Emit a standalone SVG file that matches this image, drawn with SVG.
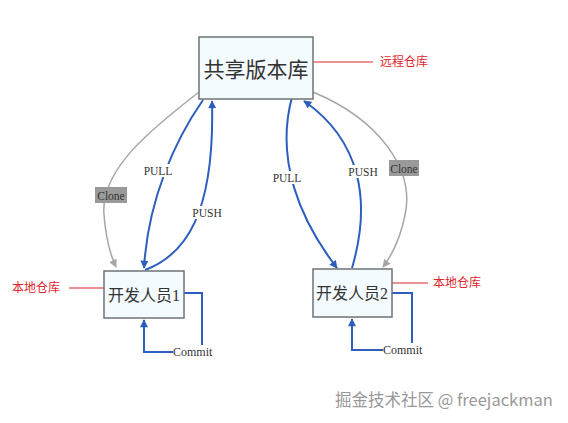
<svg xmlns="http://www.w3.org/2000/svg" width="568" height="423" viewBox="0 0 568 423">
<style>
.box{fill:#f4fbfe;stroke:#6f7377;stroke-width:1.5}
.bt{font-family:"Liberation Serif","Noto Sans CJK SC",serif;fill:#333;text-anchor:middle}
.blue{fill:none;stroke:#2c5fbd;stroke-width:2}
.gray{fill:none;stroke:#a6a6a6;stroke-width:1.5}
.red{stroke:#d9262c;stroke-width:1.2}
.rt{font-family:"Noto Sans CJK SC","Liberation Sans",sans-serif;font-size:12px;fill:#e0252b}
.lbl{font-family:"Liberation Serif",serif;font-size:11.5px;fill:#333;text-anchor:middle}
.cm{font-family:"Liberation Serif",serif;font-size:12px;fill:#333}
</style>
<defs>
<marker id="ab" viewBox="0 0 10 10" refX="9" refY="5" markerWidth="9" markerHeight="8" markerUnits="userSpaceOnUse" orient="auto"><path d="M0,0 L10,5 L0,10 z" fill="#2c5fbd"/></marker>
<marker id="ag" viewBox="0 0 10 10" refX="9" refY="5" markerWidth="9" markerHeight="8" markerUnits="userSpaceOnUse" orient="auto"><path d="M0,0 L10,5 L0,10 z" fill="#a6a6a6"/></marker>
</defs>
<rect width="568" height="423" fill="#fff"/>
<g id="connectors">
<path class="gray" d="M199,92 C150,130 100,170 104,215 C106,240 110,254 116,267" marker-end="url(#ag)"/>
<path class="blue" d="M203,100 C175,140 148,200 144,268" marker-end="url(#ab)"/>
<path class="blue" d="M145,270 C185,255 215,215 212,101" marker-end="url(#ab)"/>
<path class="blue" d="M292,97 C275,160 300,220 337,268" marker-end="url(#ab)"/>
<path class="blue" d="M352,268 C372,200 360,140 304,101" marker-end="url(#ab)"/>
<path class="gray" d="M313,92 C380,120 415,170 405,215 C400,240 392,255 383,267" marker-end="url(#ag)"/>
<path class="blue" d="M184,293 H202 V345"/>
<path class="blue" d="M173,352 H144 V320" marker-end="url(#ab)"/>
<path class="blue" d="M392,293 H412 V343"/>
<path class="blue" d="M383,350 H352 V319" marker-end="url(#ab)"/>
<line class="red" x1="313" y1="62" x2="373" y2="62"/>
<line class="red" x1="69" y1="288" x2="104" y2="288"/>
<line class="red" x1="392" y1="283" x2="428" y2="283"/>
<rect x="141" y="164" width="34" height="13" fill="#fff"/>
<text class="lbl" x="158" y="175">PULL</text>
<rect x="188" y="206" width="38" height="13" fill="#fff"/>
<text class="lbl" x="207" y="217">PUSH</text>
<rect x="270" y="171" width="34" height="13" fill="#fff"/>
<text class="lbl" x="287" y="182">PULL</text>
<rect x="344" y="165" width="38" height="13" fill="#fff"/>
<text class="lbl" x="363" y="176">PUSH</text>
<rect x="95" y="187" width="32" height="16" fill="#9a9a9a"/>
<text class="lbl" x="111" y="199.5" fill="#222" font-size="12.5">Clone</text>
<rect x="389" y="160" width="30" height="16" fill="#9a9a9a"/>
<text class="lbl" x="404" y="172.5" fill="#222" font-size="12.5">Clone</text>
<text class="cm" x="173" y="356">Commit</text>
<text class="cm" x="383" y="354">Commit</text>
</g>
<g id="remote">
<rect class="box" x="199" y="37" width="114" height="62"/>
<text class="bt" x="256" y="77" font-size="21">共享版本库</text>
<text class="rt" x="380" y="66">远程仓库</text>
</g>
<g id="dev1">
<rect class="box" x="104" y="271" width="80" height="47"/>
<text class="bt" x="144" y="301" font-size="16">开发人员1</text>
<text class="rt" x="12" y="292">本地仓库</text>
</g>
<g id="dev2">
<rect class="box" x="313" y="269" width="79" height="48"/>
<text class="bt" x="352" y="299" font-size="16">开发人员2</text>
<text class="rt" x="433" y="287">本地仓库</text>
</g>
<text x="335" y="406" font-family="'Noto Sans CJK SC','Liberation Sans',sans-serif" font-size="16.5" fill="#999">掘金技术社区 @ freejackman</text>
</svg>
